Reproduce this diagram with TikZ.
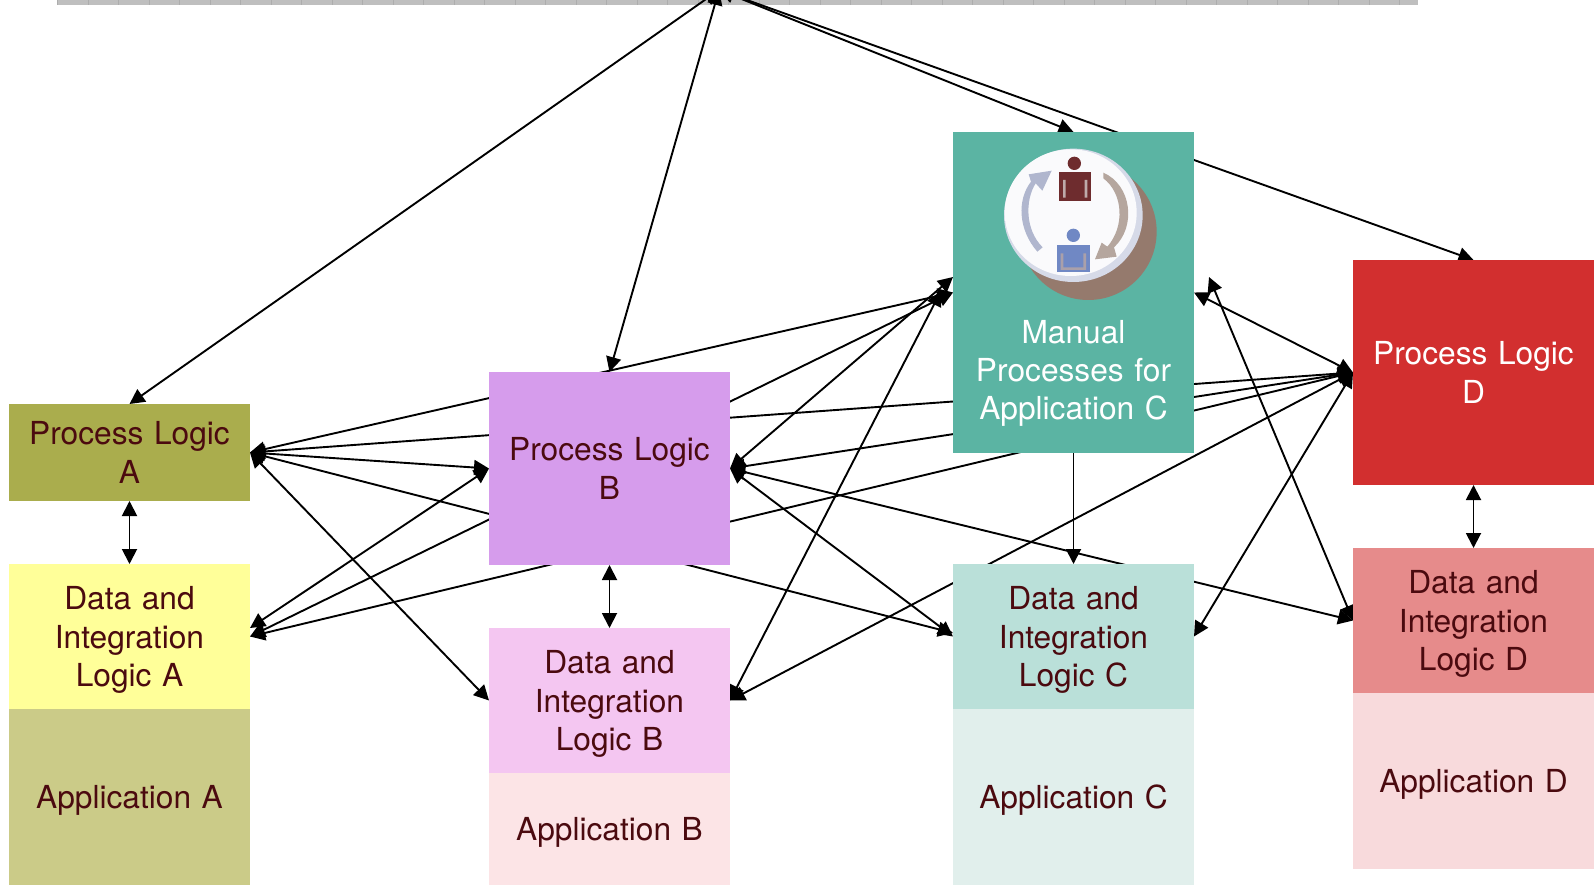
\documentclass[tikz,border=0pt]{standalone}
\usepackage{fontspec}
\setmainfont{TeX Gyre Heros}
\usetikzlibrary{arrows.meta}
\pgfdeclarelayer{edges}
\pgfsetlayers{edges,main}
\definecolor{txtdark}{HTML}{4B0A0F}
\definecolor{cPLA}{HTML}{AAAD4D}
\definecolor{cDIA}{HTML}{FFFF99}
\definecolor{cAPA}{HTML}{CBCB88}
\definecolor{cPLB}{HTML}{D69CEC}
\definecolor{cDIB}{HTML}{F4C6F1}
\definecolor{cAPB}{HTML}{FCE4E6}
\definecolor{cMAN}{HTML}{5BB4A3}
\definecolor{cDIC}{HTML}{BAE0D9}
\definecolor{cAPC}{HTML}{E1EFEC}
\definecolor{cPLD}{HTML}{D22F2F}
\definecolor{cDID}{HTML}{E68B8B}
\definecolor{cAPD}{HTML}{F8DADC}
\definecolor{shadowbrown}{RGB}{149,122,109}
\definecolor{diskrim}{RGB}{214,218,232}
\definecolor{diskwhite}{RGB}{250,250,252}
\definecolor{arrowblue}{RGB}{176,182,206}
\definecolor{arrowtaupe}{RGB}{181,166,158}
\definecolor{personred}{RGB}{110,44,46}
\definecolor{personblue}{RGB}{112,136,196}
\definecolor{stripred}{RGB}{190,170,170}
\definecolor{stripblue}{RGB}{170,160,170}
\tikzset{
  blockbox/.style={rectangle,draw=none,inner sep=0pt,outer sep=0pt,anchor=north west,minimum width=241pt},
  blocktext/.style={inner sep=0pt,text width=236pt,align=center,text=txtdark,
    font=\fontsize{31.7}{38.2}\selectfont},
  whitetext/.style={text=white},
  link/.style={line width=1.9pt,black,{Triangle[length=15pt,width=15pt]}-{Triangle[length=15pt,width=15pt]}},
  onelink/.style={line width=1.9pt,black,-{Triangle[length=15pt,width=15pt]}}
}
\begin{document}
\begin{tikzpicture}[x=1pt,y=-1pt]
\useasboundingbox (0,0) rectangle (1595,885);
\clip (0,0) rectangle (1595,885);
% anchors for the free arrow ends
\coordinate (hub) at (719,-10);
\coordinate (manUp) at (953,277);
\coordinate (manFree) at (941,291);
\coordinate (dicFree) at (1209,277);
\coordinate (diaUp) at (250,628);
\coordinate (dicLow) at (953,633);
% blocks
\node[blockbox,minimum height=97pt,fill=cPLA] (plA) at (9,404) {};
\node[blockbox,minimum height=145pt,fill=cDIA] (diA) at (9,564) {};
\node[blockbox,minimum height=176pt,fill=cAPA] (apA) at (9,709) {};
\node[blockbox,minimum height=193pt,fill=cPLB] (plB) at (489,372) {};
\node[blockbox,minimum height=145pt,fill=cDIB] (diB) at (489,628) {};
\node[blockbox,minimum height=112pt,fill=cAPB] (apB) at (489,773) {};
\node[blockbox,minimum height=321pt,fill=cMAN] (man) at (953,132) {};
\node[blockbox,minimum height=145pt,fill=cDIC] (diC) at (953,564) {};
\node[blockbox,minimum height=176pt,fill=cAPC] (apC) at (953,709) {};
\node[blockbox,minimum height=225pt,fill=cPLD] (plD) at (1353,260) {};
\node[blockbox,minimum height=145pt,fill=cDID] (diD) at (1353,548) {};
\node[blockbox,minimum height=176pt,fill=cAPD] (apD) at (1353,693) {};
% block texts
\node[blocktext] (tplA) at (plA.center) {Process Logic\\A};
\node[blocktext,yshift=-3.5pt] (tdiA) at (diA.center) {Data and\\Integration\\Logic A};
\node[blocktext,yshift=-3pt] (tapA) at (apA.center) {Application A};
\node[blocktext] (tplB) at (plB.center) {Process Logic\\B};
\node[blocktext,yshift=-3.5pt] (tdiB) at (diB.center) {Data and\\Integration\\Logic B};
\node[blocktext,yshift=-3pt] (tapB) at (apB.center) {Application B};
\node[blocktext,whitetext] (tman) at (1073.5,373.5) {Manual\\Processes for\\Application C};
\node[blocktext,yshift=-3.5pt] (tdiC) at (diC.center) {Data and\\Integration\\Logic C};
\node[blocktext,yshift=-3pt] (tapC) at (apC.center) {Application C};
\node[blocktext,whitetext] (tplD) at (plD.center) {Process Logic\\D};
\node[blocktext,yshift=-3.5pt] (tdiD) at (diD.center) {Data and\\Integration\\Logic D};
\node[blocktext,yshift=-3pt] (tapD) at (apD.center) {Application D};
% top bar and connectors, behind the blocks
\begin{pgfonlayer}{edges}
\node[rectangle,fill=black!25,inner sep=0pt,outer sep=0pt,anchor=north west,minimum width=1361pt,minimum height=5pt] (bar) at (57,0) {};
\foreach \k in {0,...,44}{\fill[black!32] (57+\k*30.5,0) rectangle +(1,5);}
\draw[link] (hub) -- (plA.north);
\draw[link] (hub) -- (plB.north);
\draw[link] (hub) -- (man.north);
\draw[link] (hub) -- (plD.north);
\draw[link] (plA.east) -- (man.west);
\draw[link] (plA.east) -- (plD.west);
\draw[link] (plA.east) -- (plB.west);
\draw[link] (plA.east) -- (dicLow);
\draw[link] (plA.east) -- (diB.west);
\draw[link] (diaUp) -- (plB.west);
\draw[link] (diA.east) -- (man.west);
\draw[link] (diA.east) -- (plD.west);
\draw[link] (plB.east) -- (manUp);
\draw[link] (plB.east) -- (plD.west);
\draw[link] (plB.east) -- (diD.west);
\draw[link] (plB.east) -- (diC.west);
\draw[link] (diB.east) -- (manFree);
\draw[link] (diB.east) -- (plD.west);
\draw[link] (man.east) -- (plD.west);
\draw[link] (diC.east) -- (plD.west);
\draw[link] (dicFree) -- (diD.west);
\draw[link] (plA.south) -- (diA.north);
\draw[link] (plB.south) -- (diB.north);
\draw[link] (plD.south) -- (diD.north);
\draw[onelink] (man.south) -- (diC.north);
\end{pgfonlayer}
% icon
\begin{scope}[shift={(950,130)},x=0.33333pt,y=-0.33333pt]
 \fill[shadowbrown] (415,305) circle[radius=205];
 \fill[diskrim] (370,256) ellipse[x radius=208,y radius=200];
 \fill[diskwhite] (362,248) ellipse[x radius=198,y radius=190];
 \fill[arrowblue] (262,365) .. controls (205,300) and (200,210) .. (243,155) -- (236,133) -- (305,122) -- (277,182) -- (257,160) .. controls (225,210) and (225,300) .. (278,352) -- cycle;
 \fill[arrowtaupe] (460,128) .. controls (545,165) and (560,290) .. (492,352) -- (500,380) -- (435,388) -- (455,338) -- (472,350) .. controls (525,290) and (520,190) .. (460,145) -- cycle;
 \fill[personred] (373,100) circle[radius=20];
 \fill[personred] (328,127) rectangle (423,213);
 \fill[stripred] (339,150) rectangle (347,203) (404,150) rectangle (412,203);
 \fill[personblue] (370,316) circle[radius=20];
 \fill[personblue] (320,345) rectangle (420,425);
 \fill[stripblue] (332,370) rectangle (340,420) (400,370) rectangle (408,420) (340,412) rectangle (400,420);
\end{scope}
\end{tikzpicture}
\end{document}
